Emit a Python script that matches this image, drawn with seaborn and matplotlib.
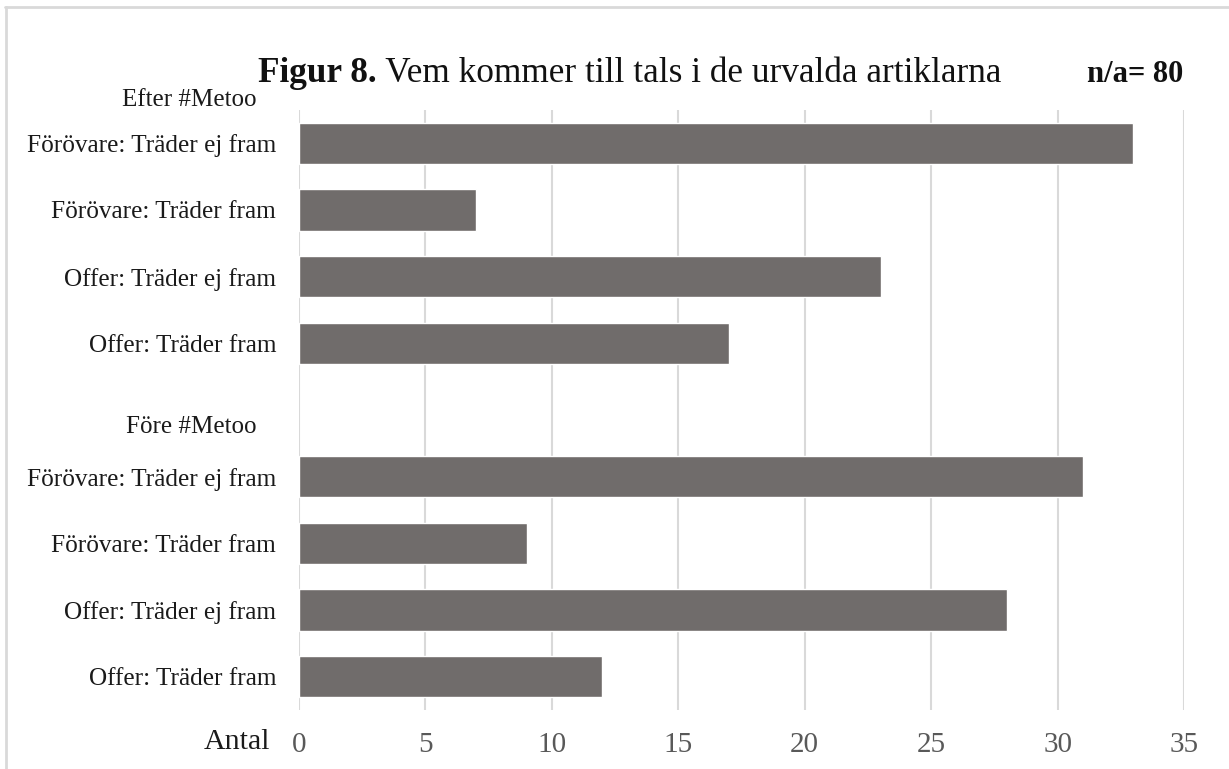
import pandas as pd
import matplotlib.pyplot as plt
import seaborn as sns

# Data
grupper = ["Efter #Metoo"] * 4 + ["Före #Metoo"] * 4
kategorier = ["Förövare: Träder ej fram", "Förövare: Träder fram",
              "Offer: Träder ej fram", "Offer: Träder fram"] * 2
antal = [33, 7, 23, 17, 31, 9, 28, 12]
x_ticks = [0, 5, 10, 15, 20, 25, 30, 35]

df = pd.DataFrame({"grupp": grupper, "kategori": kategorier, "antal": antal})
df["rad"] = df["grupp"] + " | " + df["kategori"]
rader = list(df["rad"])
order = rader[:4] + ["mellanrum"] + rader[4:]

sns.set_theme(style="white")
plt.rcParams["font.family"] = ["Liberation Serif", "DejaVu Serif"]

fig = plt.figure(figsize=(12.29, 7.69), dpi=100)
ax = fig.add_axes([299 / 1229, 1 - 710 / 769, 885 / 1229, 600 / 769])

sns.barplot(data=df, y="rad", x="antal", order=order, orient="h",
            color="#706c6b", saturation=1, width=0.62, ax=ax)

ax.set_xlim(0, 35)
ax.set_ylim(len(order) - 0.5, -0.5)
ax.set_xticks(x_ticks)
ax.set_xticklabels([str(t) for t in x_ticks], fontsize=21, color="#595959")
ax.set_yticks(range(len(order)))
ax.set_yticklabels([r.split(" | ")[1] if " | " in r else "" for r in order],
                   fontsize=18.2, color="#1a1a1a")
ax.tick_params(axis="x", length=0, pad=16)
ax.tick_params(axis="y", length=0, pad=16.5)
ax.set_xlabel("")
ax.set_ylabel("")
ax.xaxis.grid(True, color="#d9d9d9", linewidth=1.5)
ax.set_axisbelow(True)
sns.despine(left=True, right=True, top=True, bottom=True)

# group labels
fig.text(257 / 1229, 1 - 100 / 769, "Efter #Metoo", ha="right", va="center",
         fontsize=18, color="#1a1a1a")
fig.text(257 / 1229, 1 - 427 / 769, "Före #Metoo", ha="right", va="center",
         fontsize=18, color="#1a1a1a")
fig.text(270 / 1229, 1 - 742 / 769, "Antal", ha="right", va="center",
         fontsize=21.5, color="#1a1a1a")

# title in two parts
t1 = fig.text(258 / 1229, 1 - 82 / 769, "Figur 8.", ha="left", va="baseline",
              fontsize=25.4, fontweight="bold", color="#111111")
ax.annotate(" Vem kommer till tals i de urvalda artiklarna", xy=(1, 0),
            xycoords=t1, va="bottom", ha="left", fontsize=25.4, color="#111111")
fig.text(1183 / 1229, 1 - 82 / 769, "n/a= 80", ha="right", va="baseline",
         fontsize=22, fontweight="bold", color="#111111")

# light frame at top and left
fig.add_artist(plt.Line2D([5 / 1229, 1], [1 - 7 / 769, 1 - 7 / 769],
                          color="#d9d9d9", linewidth=2))
fig.add_artist(plt.Line2D([6 / 1229, 6 / 1229], [0, 1 - 7 / 769],
                          color="#d9d9d9", linewidth=2))

fig.savefig("out.png", dpi=100)
